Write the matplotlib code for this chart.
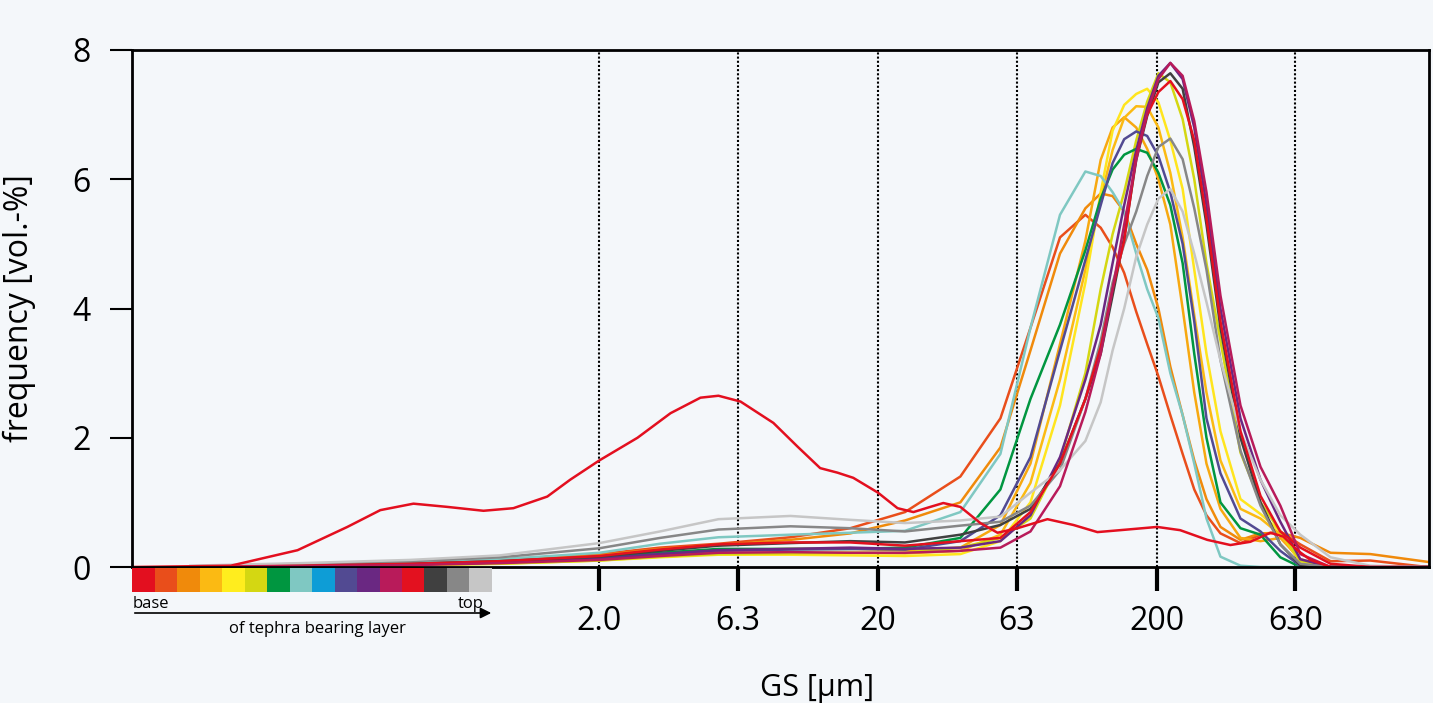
import matplotlib
matplotlib.use("Agg")
import matplotlib.pyplot as plt
from matplotlib.patches import Rectangle
from matplotlib.ticker import NullLocator

plt.rcParams['font.family'] = ['Open Sans', 'DejaVu Sans']

W, H = 1433, 703
bg = '#f4f7fa'

# grain size classes [µm]
gs = [0.068, 0.17, 0.42, 0.88, 2.0, 3.3, 5.35, 9.7, 15.9, 25, 39.5, 55, 70.5, 90,
      111, 126, 139, 153, 169, 185, 203, 224, 248, 273, 302, 339, 400, 472, 556,
      656, 842, 1170, 1875]

# base sample (bimodal), read separately
gs_base = [0.042, 0.095, 0.165, 0.249, 0.327, 0.43, 0.569, 0.767, 0.982, 1.30, 1.57,
           2.0, 2.74, 3.60, 4.61, 5.35, 6.42, 8.42, 10.3, 12.4, 14.3, 16.3, 20,
           23.5, 26.8, 30.8, 34.3, 39.5, 46.6, 53.7, 63.3, 81.1, 100.6, 122.6, 148,
           201, 243, 304, 368, 434, 512, 570, 640, 713, 842]
freq_base = [0.0, 0.02, 0.26, 0.62, 0.88, 0.98, 0.93, 0.87, 0.91, 1.09, 1.35,
             1.65, 2.0, 2.38, 2.62, 2.65, 2.56, 2.23, 1.86, 1.53, 1.46, 1.38, 1.15,
             0.91, 0.85, 0.93, 0.99, 0.93, 0.68, 0.53, 0.6, 0.74, 0.65, 0.54, 0.57,
             0.62, 0.57, 0.42, 0.34, 0.39, 0.53, 0.47, 0.26, 0.11, 0.0]

f_orange_red = [0.0, 0.03, 0.06, 0.11, 0.2, 0.3, 0.36, 0.46, 0.6, 0.85, 1.4,
                2.3, 3.7, 5.1, 5.45, 5.25, 4.95, 4.55, 3.95, 3.45, 2.95, 2.35, 1.75,
                1.2, 0.8, 0.52, 0.37, 0.5, 0.55, 0.35, 0.09, 0.1, 0.0]
f_orange = [0.0, 0.02, 0.05, 0.1, 0.18, 0.28, 0.34, 0.42, 0.52, 0.72, 1.0,
            1.85, 3.35, 4.85, 5.55, 5.78, 5.74, 5.5, 5.0, 4.6, 4.0, 3.1, 2.35,
            1.65, 1.05, 0.62, 0.42, 0.52, 0.53, 0.45, 0.22, 0.2, 0.08]
f_amber = [0.0, 0.02, 0.04, 0.07, 0.13, 0.2, 0.26, 0.28, 0.28, 0.26, 0.3,
           0.65, 1.6, 3.45, 5.05, 6.3, 6.8, 6.96, 6.8, 6.47, 6.0, 5.3, 4.0,
           2.7, 1.6, 0.9, 0.45, 0.4, 0.45, 0.12, 0.0, 0.0, 0.0]
f_gold = [0.0, 0.02, 0.03, 0.06, 0.11, 0.17, 0.22, 0.22, 0.22, 0.21, 0.25,
          0.5, 1.3, 2.9, 4.6, 5.7, 6.45, 6.95, 7.13, 7.12, 6.8, 6.1, 5.1,
          3.9, 2.7, 1.65, 0.9, 0.75, 0.5, 0.08, 0.0, 0.0, 0.0]
f_yellow = [0.0, 0.01, 0.03, 0.05, 0.1, 0.15, 0.19, 0.19, 0.18, 0.17, 0.2,
            0.4, 1.0, 2.5, 4.4, 5.8, 6.75, 7.15, 7.32, 7.4, 7.19, 6.6, 5.85,
            4.6, 3.3, 2.1, 1.05, 0.82, 0.55, 0.08, 0.0, 0.0, 0.0]
f_yellow_green = [0.0, 0.01, 0.03, 0.05, 0.1, 0.16, 0.2, 0.21, 0.22, 0.22, 0.3,
                  0.45, 0.75, 1.65, 3.0, 4.3, 5.15, 5.8, 6.6, 7.2, 7.64, 7.5, 6.93,
                  6.0, 4.7, 3.5, 1.77, 1.0, 0.55, 0.1, 0.0, 0.0, 0.0]
f_green = [0.0, 0.02, 0.04, 0.08, 0.15, 0.22, 0.28, 0.28, 0.28, 0.3, 0.45,
           1.2, 2.6, 3.75, 4.9, 5.7, 6.15, 6.38, 6.47, 6.41, 6.1, 5.6, 4.7,
           3.3, 2.0, 1.0, 0.6, 0.5, 0.15, 0.0, 0.0, 0.0, 0.0]
f_teal = [0.0, 0.03, 0.07, 0.12, 0.22, 0.36, 0.46, 0.5, 0.53, 0.56, 0.85,
          1.75, 3.7, 5.45, 6.12, 6.05, 5.8, 5.5, 4.85, 4.3, 3.85, 3.0, 2.35,
          1.6, 0.75, 0.16, 0.02, 0.0, 0.0, 0.0, 0.0, 0.0, 0.0]
f_indigo = [0.0, 0.02, 0.04, 0.07, 0.13, 0.2, 0.25, 0.27, 0.28, 0.27, 0.4,
            0.8, 1.7, 3.35, 4.75, 5.6, 6.25, 6.62, 6.74, 6.67, 6.36, 5.8, 5.0,
            3.8, 2.3, 1.45, 0.75, 0.55, 0.25, 0.02, 0.0, 0.0, 0.0]
f_purple = [0.0, 0.02, 0.04, 0.07, 0.13, 0.2, 0.26, 0.28, 0.3, 0.28, 0.3,
            0.4, 0.8, 1.7, 2.9, 3.75, 4.7, 5.6, 6.45, 7.1, 7.6, 7.8, 7.55,
            6.8, 5.6, 4.0, 2.3, 1.35, 0.7, 0.12, 0.0, 0.0, 0.0]
f_magenta = [0.0, 0.01, 0.03, 0.06, 0.11, 0.17, 0.22, 0.23, 0.22, 0.22, 0.25,
             0.3, 0.55, 1.25, 2.4, 3.3, 4.3, 5.3, 6.3, 7.04, 7.55, 7.8, 7.6,
             6.9, 5.8, 4.2, 2.5, 1.55, 0.95, 0.2, 0.0, 0.0, 0.0]
f_red = [0.0, 0.02, 0.05, 0.09, 0.17, 0.27, 0.35, 0.38, 0.38, 0.33, 0.4,
         0.45, 0.85, 1.6, 2.6, 3.4, 4.3, 5.05, 6.35, 7.0, 7.35, 7.52, 7.24,
         6.6, 5.4, 3.8, 2.1, 1.1, 0.55, 0.3, 0.05, 0.0, 0.0]
f_dark_gray = [0.0, 0.02, 0.05, 0.09, 0.16, 0.25, 0.33, 0.37, 0.4, 0.38, 0.5,
               0.65, 0.9, 1.6, 2.6, 3.3, 4.2, 5.1, 6.3, 6.98, 7.5, 7.64, 7.4,
               6.5, 5.3, 3.7, 2.0, 1.0, 0.35, 0.03, 0.0, 0.0, 0.0]
f_gray = [0.01, 0.05, 0.09, 0.15, 0.29, 0.45, 0.58, 0.63, 0.6, 0.55, 0.64,
          0.7, 0.95, 1.5, 2.6, 3.5, 4.4, 5.0, 5.5, 6.05, 6.5, 6.63, 6.31,
          5.55, 4.6, 3.2, 1.8, 0.95, 0.35, 0.05, 0.0, 0.0, 0.0]
f_light_gray = [0.02, 0.06, 0.11, 0.18, 0.37, 0.55, 0.74, 0.79, 0.73, 0.68, 0.72,
                0.78, 1.15, 1.5, 1.95, 2.55, 3.35, 4.0, 4.8, 5.3, 5.7, 5.85, 5.5,
                4.85, 4.1, 3.2, 2.1, 1.35, 0.8, 0.5, 0.15, 0.02, 0.0]

# colour scale: base -> top of tephra bearing layer
layer_colors = ['#e30f1f', '#e94e1b', '#f08a0b', '#fbba13', '#ffed1e', '#d4d712',
                '#009640', '#7fc8c2', '#0e9dd6', '#524a92', '#6a2882', '#b81b5a',
                '#e3111f', '#404040', '#878787', '#c6c6c6']

tick_vals = [2.0, 6.3, 20, 63, 200, 630]
tick_labels = ['2.0', '6.3', '20', '63', '200', '630']

curves = [
    (f_orange_red, '#e94e1b'), (f_orange, '#f08a0b'), (f_amber, '#f7a810'),
    (f_gold, '#fbba13'), (f_yellow, '#ffe51e'), (f_yellow_green, '#d4d712'),
    (f_green, '#009640'), (f_teal, '#7fc8c2'), (f_indigo, '#524a92'),
    (f_purple, '#6a2882'), (f_dark_gray, '#404040'), (f_gray, '#878787'),
    (f_light_gray, '#c6c6c6'), (f_red, '#e3111f'), (f_magenta, '#b81b5a'),
]

fig = plt.figure(figsize=(W / 100, H / 100), dpi=100, facecolor=bg)
ax = fig.add_axes([132 / W, 1 - 567 / H, (1429 - 132) / W, (567 - 50) / H], facecolor=bg)

ax.set_xscale('log')
ax.set_xlim(0.042, 1900)
ax.set_ylim(0, 8)

for t in tick_vals:
    ax.axvline(t, color='k', ls=(0, (1, 1)), lw=1.5, zorder=1)

ax.plot(gs_base, freq_base, color='#e30f1f', lw=1.8, zorder=3)
for vals, c in curves:
    ax.plot(gs, vals, color=c, lw=1.8, zorder=2)

ax.set_xticks(tick_vals)
ax.set_xticklabels(tick_labels)
ax.xaxis.set_minor_locator(NullLocator())
ax.set_yticks([0, 2, 4, 6, 8])
ax.tick_params(axis='x', direction='out', length=17, width=3, pad=10, labelsize=23)
ax.tick_params(axis='y', direction='out', length=16, width=1.5, pad=14, labelsize=23)
for s in ax.spines.values():
    s.set_linewidth(2)
    s.set_zorder(4)

ax.set_ylabel('frequency [vol.-%]', fontsize=23, labelpad=26)
fig.text(817 / W, 15 / H, 'GS [µm]', ha='center', va='center', fontsize=22)

# colour legend below the axis
lax = fig.add_axes([132 / W, 1 - 592 / H, 360 / W, 24 / H])
for i, c in enumerate(layer_colors):
    lax.add_patch(Rectangle((i, 0), 1, 1, color=c, lw=0))
lax.set_xlim(0, 16)
lax.set_ylim(0, 1)
lax.axis('off')

fig.text(133 / W, (H - 604) / H, 'base', ha='left', va='center', fontsize=12)
fig.text(484 / W, (H - 604) / H, 'top', ha='right', va='center', fontsize=12)
fig.text(317 / W, (H - 629) / H, 'of tephra bearing layer', ha='center', va='center', fontsize=12)
ax.annotate('', xy=(494, H - 613), xytext=(132, H - 613), xycoords='figure pixels',
            textcoords='figure pixels', annotation_clip=False,
            arrowprops=dict(arrowstyle='-|>', color='k', lw=1.2, mutation_scale=16))

fig.savefig('out.png', dpi=100, facecolor=bg)
